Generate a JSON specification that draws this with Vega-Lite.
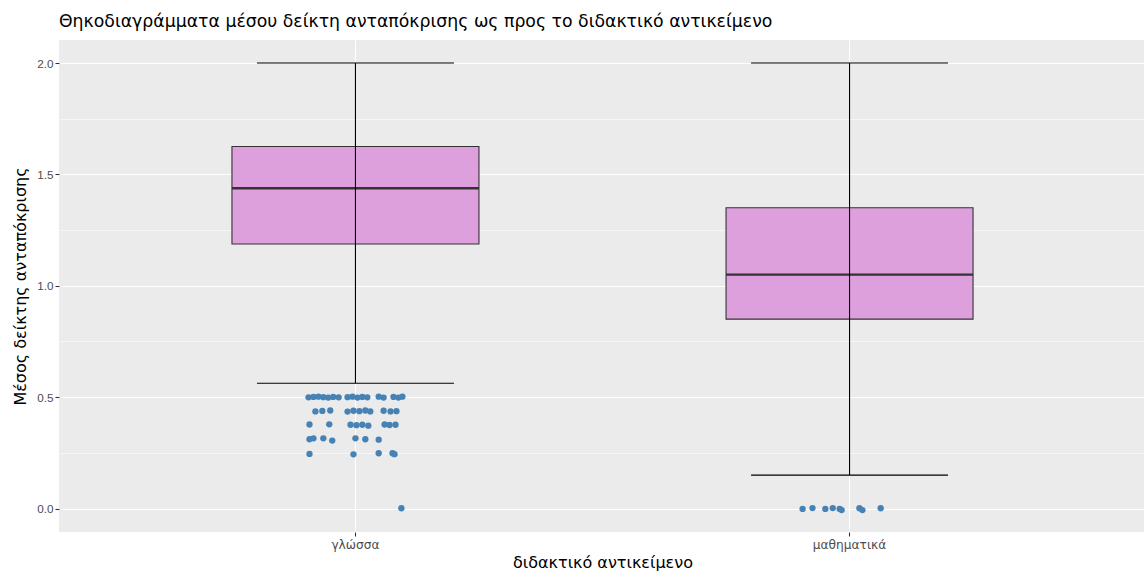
{
  "$schema": "https://vega.github.io/schema/vega-lite/v6.json",
  "width": 1087,
  "height": 492,
  "autosize": {"type": "none"},
  "padding": {"left": 59, "top": 40, "right": 0, "bottom": 39},
  "title": {
    "text": "Θηκοδιαγράμματα μέσου δείκτη ανταπόκρισης ως προς το διδακτικό αντικείμενο",
    "anchor": "start",
    "frame": "group",
    "font": "DejaVu Sans",
    "fontSize": 17.3,
    "fontWeight": "normal",
    "color": "#000000",
    "offset": 10
  },
  "config": {
    "view": {"fill": "#EBEBEB", "stroke": null},
    "axis": {
      "labelFont": "Liberation Sans",
      "labelColor": "#4D4D4D",
      "labelFontSize": 11.7,
      "titleFont": "DejaVu Sans",
      "titleColor": "#000000",
      "titleFontSize": 16,
      "titleFontWeight": "normal",
      "domain": false,
      "tickColor": "#333333",
      "tickSize": 4,
      "tickWidth": 1.07,
      "gridColor": "#FFFFFF",
      "gridWidth": 1.07,
      "gridOpacity": 1
    }
  },
  "datasets": {
    "boxes": [
      {"subject": "γλώσσα", "lower": 0.5625, "q1": 1.1875, "median": 1.4375, "q3": 1.625, "upper": 2.0},
      {"subject": "μαθηματικά", "lower": 0.15, "q1": 0.85, "median": 1.05, "q3": 1.35, "upper": 2.0}
    ],
    "outliers": [
      {"subject": "γλώσσα", "value": 0.499, "jitter": -0.095},
      {"subject": "γλώσσα", "value": 0.501, "jitter": -0.085},
      {"subject": "γλώσσα", "value": 0.502, "jitter": -0.075},
      {"subject": "γλώσσα", "value": 0.500, "jitter": -0.065},
      {"subject": "γλώσσα", "value": 0.498, "jitter": -0.055},
      {"subject": "γλώσσα", "value": 0.501, "jitter": -0.045},
      {"subject": "γλώσσα", "value": 0.499, "jitter": -0.034},
      {"subject": "γλώσσα", "value": 0.500, "jitter": -0.016},
      {"subject": "γλώσσα", "value": 0.502, "jitter": -0.006},
      {"subject": "γλώσσα", "value": 0.498, "jitter": 0.004},
      {"subject": "γλώσσα", "value": 0.501, "jitter": 0.014},
      {"subject": "γλώσσα", "value": 0.499, "jitter": 0.024},
      {"subject": "γλώσσα", "value": 0.502, "jitter": 0.047},
      {"subject": "γλώσσα", "value": 0.498, "jitter": 0.057},
      {"subject": "γλώσσα", "value": 0.501, "jitter": 0.077},
      {"subject": "γλώσσα", "value": 0.498, "jitter": 0.087},
      {"subject": "γλώσσα", "value": 0.502, "jitter": 0.095},
      {"subject": "γλώσσα", "value": 0.436, "jitter": -0.081},
      {"subject": "γλώσσα", "value": 0.438, "jitter": -0.067},
      {"subject": "γλώσσα", "value": 0.440, "jitter": -0.051},
      {"subject": "γλώσσα", "value": 0.435, "jitter": -0.016},
      {"subject": "γλώσσα", "value": 0.439, "jitter": -0.004},
      {"subject": "γλώσσα", "value": 0.437, "jitter": 0.008},
      {"subject": "γλώσσα", "value": 0.440, "jitter": 0.020},
      {"subject": "γλώσσα", "value": 0.436, "jitter": 0.030},
      {"subject": "γλώσσα", "value": 0.439, "jitter": 0.057},
      {"subject": "γλώσσα", "value": 0.436, "jitter": 0.071},
      {"subject": "γλώσσα", "value": 0.437, "jitter": 0.083},
      {"subject": "γλώσσα", "value": 0.377, "jitter": -0.093},
      {"subject": "γλώσσα", "value": 0.378, "jitter": -0.053},
      {"subject": "γλώσσα", "value": 0.376, "jitter": -0.010},
      {"subject": "γλώσσα", "value": 0.374, "jitter": 0.002},
      {"subject": "γλώσσα", "value": 0.376, "jitter": 0.014},
      {"subject": "γλώσσα", "value": 0.372, "jitter": 0.026},
      {"subject": "γλώσσα", "value": 0.377, "jitter": 0.059},
      {"subject": "γλώσσα", "value": 0.375, "jitter": 0.069},
      {"subject": "γλώσσα", "value": 0.376, "jitter": 0.081},
      {"subject": "γλώσσα", "value": 0.311, "jitter": -0.093},
      {"subject": "γλώσσα", "value": 0.315, "jitter": -0.085},
      {"subject": "γλώσσα", "value": 0.315, "jitter": -0.065},
      {"subject": "γλώσσα", "value": 0.305, "jitter": -0.047},
      {"subject": "γλώσσα", "value": 0.315, "jitter": 0.000},
      {"subject": "γλώσσα", "value": 0.311, "jitter": 0.020},
      {"subject": "γλώσσα", "value": 0.309, "jitter": 0.047},
      {"subject": "γλώσσα", "value": 0.245, "jitter": -0.093},
      {"subject": "γλώσσα", "value": 0.243, "jitter": -0.004},
      {"subject": "γλώσσα", "value": 0.248, "jitter": 0.047},
      {"subject": "γλώσσα", "value": 0.248, "jitter": 0.075},
      {"subject": "γλώσσα", "value": 0.244, "jitter": 0.079},
      {"subject": "γλώσσα", "value": 0.001, "jitter": 0.093},
      {"subject": "μαθηματικά", "value": -0.002, "jitter": -0.095},
      {"subject": "μαθηματικά", "value": 0.002, "jitter": -0.075},
      {"subject": "μαθηματικά", "value": -0.002, "jitter": -0.049},
      {"subject": "μαθηματικά", "value": 0.002, "jitter": -0.034},
      {"subject": "μαθηματικά", "value": -0.002, "jitter": -0.020},
      {"subject": "μαθηματικά", "value": -0.007, "jitter": -0.016},
      {"subject": "μαθηματικά", "value": 0.001, "jitter": 0.020},
      {"subject": "μαθηματικά", "value": -0.007, "jitter": 0.026},
      {"subject": "μαθηματικά", "value": 0.001, "jitter": 0.063}
    ]
  },
  "encoding": {
    "x": {
      "field": "subject",
      "type": "nominal",
      "scale": {"domain": ["γλώσσα", "μαθηματικά"], "paddingInner": 0, "paddingOuter": 0.1},
      "axis": {
        "title": "διδακτικό αντικείμενο",
        "labelAngle": 0,
        "labelFont": "DejaVu Sans",
        "labelFontSize": 12.2,
        "bandPosition": 0.5,
        "grid": true,
        "labelPadding": 2,
        "titlePadding": 4
      }
    }
  },
  "layer": [
    {
      "data": {"name": "boxes"},
      "mark": {"type": "bar", "fill": "#DDA0DD", "stroke": "#333333", "strokeWidth": 1.1, "width": 247},
      "encoding": {
        "y": {
          "field": "q1",
          "type": "quantitative",
          "scale": {"domain": [-0.1055, 2.1033], "nice": false, "zero": false},
          "axis": {
            "title": "Μέσος δείκτης ανταπόκρισης",
            "values": [0, 0.5, 1, 1.5, 2],
            "format": ".1f",
            "labelPadding": 2,
            "titlePadding": 8
          }
        },
        "y2": {"field": "q3"}
      }
    },
    {
      "data": {"name": "boxes"},
      "mark": {"type": "tick", "orient": "horizontal", "size": 247, "thickness": 2.4, "color": "#333333", "opacity": 1},
      "encoding": {
        "y": {
          "field": "median",
          "type": "quantitative",
          "axis": {
            "orient": "right",
            "values": [0.25, 0.75, 1.25, 1.75],
            "grid": true,
            "gridWidth": 0.55,
            "labels": false,
            "ticks": false,
            "domain": false,
            "title": null
          }
        }
      }
    },
    {
      "data": {"name": "boxes"},
      "mark": {"type": "rule", "color": "#000000", "strokeWidth": 1.1},
      "encoding": {
        "y": {"field": "lower", "type": "quantitative", "axis": null},
        "y2": {"field": "upper"}
      }
    },
    {
      "data": {"name": "boxes"},
      "mark": {"type": "tick", "orient": "horizontal", "size": 197, "thickness": 1.1, "color": "#000000", "opacity": 1},
      "encoding": {"y": {"field": "lower", "type": "quantitative", "axis": null}}
    },
    {
      "data": {"name": "boxes"},
      "mark": {"type": "tick", "orient": "horizontal", "size": 197, "thickness": 1.1, "color": "#000000", "opacity": 1},
      "encoding": {"y": {"field": "upper", "type": "quantitative", "axis": null}}
    },
    {
      "data": {"name": "outliers"},
      "mark": {"type": "circle", "size": 40, "color": "#4682B4", "opacity": 1},
      "encoding": {
        "y": {"field": "value", "type": "quantitative", "axis": null},
        "xOffset": {"field": "jitter", "type": "quantitative", "scale": {"domain": [-0.5, 0.5]}}
      }
    }
  ],
  "resolve": {"axis": {"y": "independent"}}
}
